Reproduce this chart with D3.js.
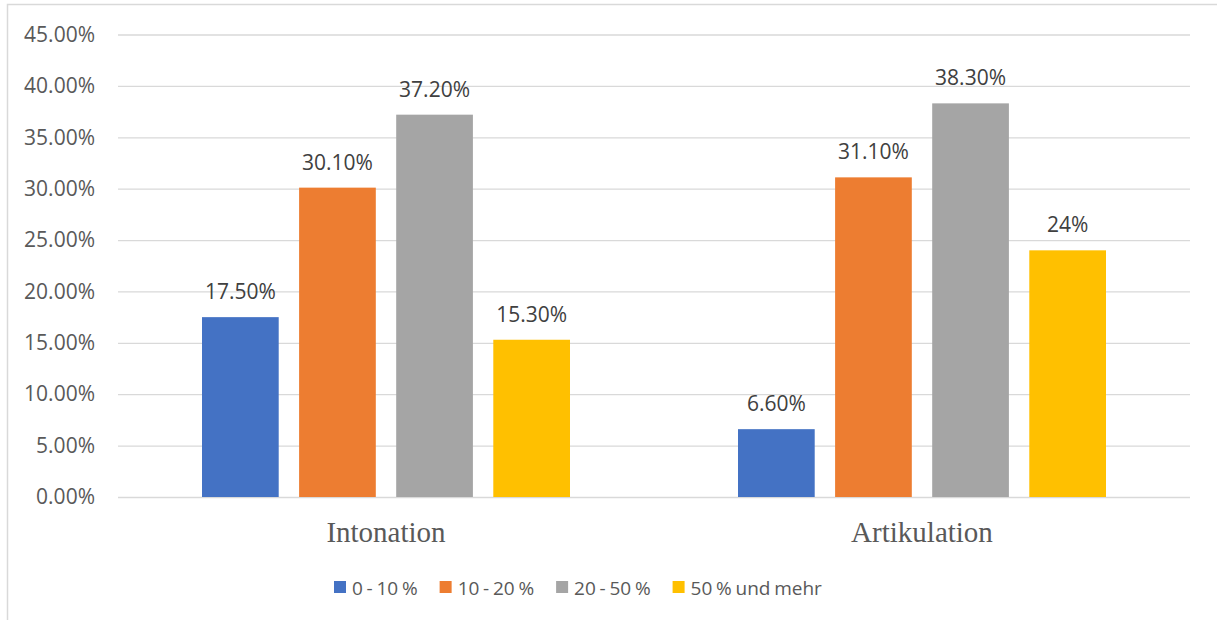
<!DOCTYPE html>
<html>
<head>
<meta charset="utf-8">
<script src="https://cdn.jsdelivr.net/npm/d3@7"></script>
<style>
  html, body { margin: 0; padding: 0; background: #fff; }
  svg { display: block; }
</style>
</head>
<body>
<svg id="chart" width="1217" height="620"></svg>
<script>
'use strict';

// Chart data
const categories = ['Intonation', 'Artikulation'];
const seriesNames = ['0 - 10 %', '10 - 20 %', '20 - 50 %', '50 % und mehr'];
const seriesColors = ['#4472C4', '#ED7D31', '#A5A5A5', '#FFC000'];
const series0to10 = [17.5, 6.6];
const series10to20 = [30.1, 31.1];
const series20to50 = [37.2, 38.3];
const series50plus = [15.3, 24];
const labels0to10 = ['17.50%', '6.60%'];
const labels10to20 = ['30.10%', '31.10%'];
const labels20to50 = ['37.20%', '38.30%'];
const labels50plus = ['15.30%', '24%'];
const yTicks = [0, 5, 10, 15, 20, 25, 30, 35, 40, 45];

const seriesValues = [series0to10, series10to20, series20to50, series50plus];
const seriesLabels = [labels0to10, labels10to20, labels20to50, labels50plus];

const svg = d3.select('#chart');
const plot = { left: 118, right: 1190, top: 34.5, bottom: 497 };
const sansFont = '"Open Sans", sans-serif';

// outer chart border (only top and left visible in frame)
svg.append('rect')
  .attr('x', 7.5).attr('y', 4.5)
  .attr('width', 1230).attr('height', 640)
  .attr('fill', 'none')
  .attr('stroke', '#d9d9d9')
  .attr('stroke-width', 1.5);

const y = d3.scaleLinear().domain([0, 45]).range([plot.bottom, plot.top]);
const x0 = d3.scaleBand().domain(categories).range([plot.left, plot.right]).paddingInner(0).paddingOuter(0);
const x1 = d3.scaleBand().domain(d3.range(seriesNames.length))
  .range([84, x0.bandwidth() - 84]).paddingInner(0.21).paddingOuter(0);

// y axis with gridlines
const yAxis = d3.axisLeft(y)
  .tickValues(yTicks)
  .tickSize(-(plot.right - plot.left))
  .tickPadding(23)
  .tickFormat(d => d3.format('.2f')(d) + '%');

const yG = svg.append('g')
  .attr('transform', `translate(${plot.left},0)`)
  .call(yAxis);
yG.select('.domain').remove();
yG.selectAll('.tick line').attr('stroke', '#d9d9d9').attr('stroke-width', 1.3);
yG.selectAll('.tick text')
  .attr('fill', '#595959')
  .style('font-family', sansFont)
  .style('font-size', '21px');

// bars
const groups = svg.append('g').selectAll('g')
  .data(categories)
  .join('g')
  .attr('transform', d => `translate(${x0(d)},0)`);

const barData = (d, ci) => seriesValues.map((vals, si) => ({ si, value: vals[ci], label: seriesLabels[si][ci] }));

groups.selectAll('rect')
  .data(barData)
  .join('rect')
  .attr('x', d => x1(d.si))
  .attr('y', d => y(d.value))
  .attr('width', x1.bandwidth())
  .attr('height', d => y(0) - y(d.value))
  .attr('fill', d => seriesColors[d.si]);

groups.selectAll('text.value')
  .data(barData)
  .join('text')
  .attr('class', 'value')
  .attr('x', d => x1(d.si) + x1.bandwidth() / 2)
  .attr('y', d => y(d.value) - 18)
  .attr('text-anchor', 'middle')
  .attr('fill', '#404040')
  .style('font-family', sansFont)
  .style('font-size', '21px')
  .text(d => d.label);

// category labels
svg.append('g').selectAll('text')
  .data(categories)
  .join('text')
  .attr('x', d => x0(d) + x0.bandwidth() / 2)
  .attr('y', 542)
  .attr('text-anchor', 'middle')
  .attr('fill', '#595959')
  .style('font-family', '"Liberation Serif", "Times New Roman", serif')
  .style('font-size', '29px')
  .text(d => d);

// legend
const legend = svg.append('g').attr('transform', 'translate(334,0)');
let offset = 0;
seriesNames.forEach((name, i) => {
  const item = legend.append('g').attr('transform', `translate(${offset},0)`);
  item.append('rect')
    .attr('x', 0).attr('y', 581)
    .attr('width', 12).attr('height', 12)
    .attr('fill', seriesColors[i]);
  const txt = item.append('text')
    .attr('x', 18).attr('y', 595)
    .attr('fill', '#595959')
    .style('font-family', sansFont)
    .style('font-size', '19px')
    .style('word-spacing', '-1.2px')
    .text(name);
  offset += 18 + txt.node().getComputedTextLength() + 22;
});
</script>
</body>
</html>
